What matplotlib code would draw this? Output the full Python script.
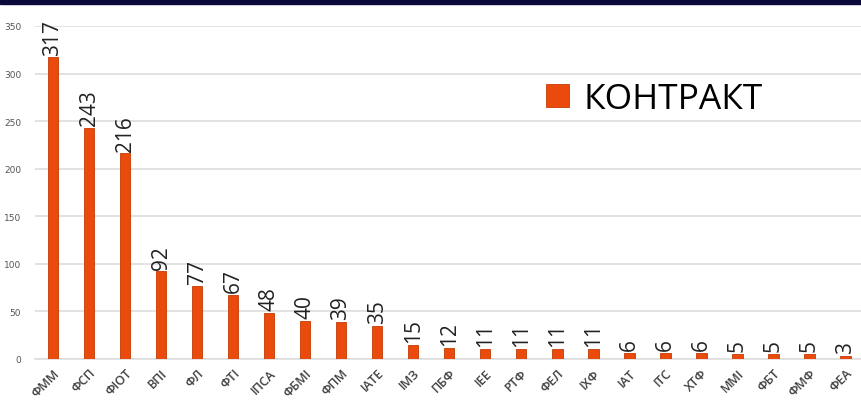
import matplotlib.pyplot as plt
from matplotlib.patches import Rectangle

faculties = ['ФММ', 'ФСП', 'ФІОТ', 'ВПІ', 'ФЛ', 'ФТІ', 'ІПСА', 'ФБМІ', 'ФПМ', 'ІАТЕ',
             'ІМЗ', 'ПБФ', 'ІЕЕ', 'РТФ', 'ФЕЛ', 'ІХФ', 'ІАТ', 'ІТС', 'ХТФ', 'ММІ',
             'ФБТ', 'ФМФ', 'ФЕА']
contract = [317, 243, 216, 92, 77, 67, 48, 40, 39, 35,
            15, 12, 11, 11, 11, 11, 6, 6, 6, 5,
            5, 5, 3]
y_ticks = [0, 50, 100, 150, 200, 250, 300, 350]

bar_color = '#ea4a0c'

fig = plt.figure(figsize=(8.61, 4.10), dpi=100)
W, H = 861, 410
ax = fig.add_axes([35 / W, 50 / H, (861 - 35) / W, (360 - 27) / H])

x = range(len(faculties))
bars = ax.bar(x, contract, width=0.3, color=bar_color, edgecolor='#c43a05',
              linewidth=0.6, zorder=3, label='КОНТРАКТ')

for xi, v in zip(x, contract):
    ax.text(xi, v + 3, str(v), rotation=90, ha='center', va='bottom',
            fontsize=15, color='#222222', family='Open Sans', clip_on=False)

ax.set_xlim(-0.5, 22.44)
ax.set_ylim(0, 350)
ax.set_yticks(y_ticks)
ax.set_yticklabels([str(t) for t in y_ticks], fontsize=6.5, color='#555555')
ax.set_xticks(list(x))
ax.set_xticklabels(faculties, rotation=45, ha='right', va='top',
                   rotation_mode='anchor', fontsize=9, color='#404040',
                   family='Open Sans', fontweight='semibold')
ax.tick_params(axis='both', length=0)
ax.tick_params(axis='y', pad=10)
ax.tick_params(axis='x', pad=5)
ax.grid(axis='y', color='#dddddd', linewidth=1.2, zorder=0)
for s in ['top', 'right', 'left']:
    ax.spines[s].set_visible(False)
ax.spines['bottom'].set_color('#dddddd')
ax.spines['bottom'].set_linewidth(1.2)

ax.legend(loc='center left', bbox_to_anchor=(514 / W, 1 - 100 / H),
          bbox_transform=fig.transFigure, frameon=False,
          prop={'family': 'Open Sans', 'size': 25.5}, handlelength=0.65,
          handleheight=0.65, handletextpad=0.4)

# dark band along the top edge
fig.patches.append(Rectangle((0, 1 - 5 / H), 1, 5 / H, transform=fig.transFigure,
                             color='#0a0a3a', zorder=10))

fig.savefig('out.png', dpi=100, facecolor='w')
